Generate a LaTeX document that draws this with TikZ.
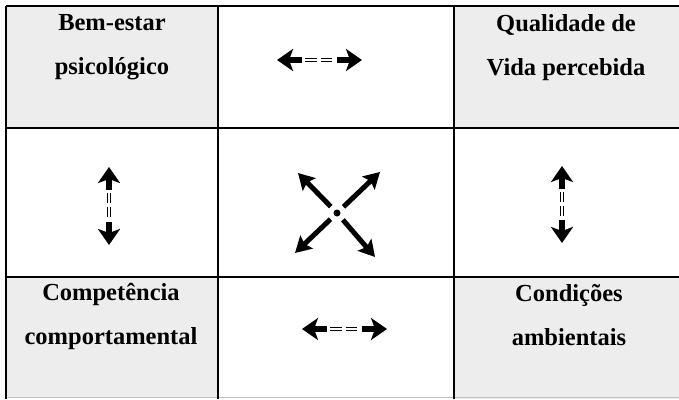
\documentclass[tikz,border=0pt]{standalone}
\usepackage{fontspec}
\setmainfont{Liberation Serif}
\usetikzlibrary{arrows.meta,calc}
\newcommand{\biarr}[4]{%
  \draw[headline] ($(#1)!#3!(#2)$) -- (#1);
  \draw[headline] ($(#2)!#3!(#1)$) -- (#2);
  \draw[dblline,#4] ($(#1)!#3+3pt!(#2)$) -- ($(#2)!#3+3pt!(#1)$);
}
\begin{document}
\begin{tikzpicture}[x=1pt,y=-1pt,
  gridline/.style={line width=1.3pt, black},
  cellfill/.style={fill=black!7},
  celltext/.style={font=\fontsize{24.5}{44}\selectfont\bfseries, align=center, anchor=base, inner sep=0pt},
  headline/.style={line width=6.5pt, -{Stealth[length=16pt,width=22pt,inset=4pt]}},
  dblline/.style={draw=black, line width=1pt, double=white, double distance=2.6pt},
  xline/.style={line width=5pt, -{Stealth[length=16pt,width=18pt,inset=3pt]}},
  ]
\useasboundingbox (0,0) rectangle (679,399);
% shaded corner cells
\fill[cellfill] (6,6) rectangle (218,128);
\fill[cellfill] (454,6) rectangle (679,128);
\fill[cellfill] (6,277) rectangle (218,397);
\fill[cellfill] (454,277) rectangle (679,399);
% grid
\draw[gridline] (6,6) -- (679,6);
\draw[gridline] (6,128) -- (679,128);
\draw[gridline] (6,277) -- (679,277);
\draw[black!25, line width=0.6pt] (6,397) -- (679,397);
\draw[gridline, line width=1.8pt] (6,6) -- (6,399);
\draw[gridline] (218,6) -- (218,399);
\draw[gridline] (454,6) -- (454,399);
% texts (base anchor = baseline of last line)
\node[celltext] (bem) at (112,74) {Bem-estar\\psicológico};
\node[celltext] (qual) at (566,75) {Qualidade de\\Vida percebida};
\node[celltext] (comp) at (111,344) {Competência\\comportamental};
\node[celltext] (cond) at (569,345) {Condições\\ambientais};
% arrow end points
\coordinate (tl) at (277,60);
\coordinate (tr) at (362,60);
\coordinate (bl) at (302,329);
\coordinate (br) at (387,329);
\coordinate (lt) at (109,167);
\coordinate (lb) at (109,245);
\coordinate (rt) at (562,166);
\coordinate (rb) at (562,243);
\coordinate (c) at (337,213);
\coordinate (ul) at (298,173);
\coordinate (ur) at (380,172);
\coordinate (ll) at (295,253);
\coordinate (lr) at (375,257);
% double-headed dashed arrows
\biarr{tl}{tr}{25pt}{dash pattern=on 11.5pt off 4pt}
\biarr{bl}{br}{25pt}{dash pattern=on 11.5pt off 4pt}
\biarr{lt}{lb}{23pt}{dash pattern=on 10pt off 4pt}
\biarr{rt}{rb}{23pt}{dash pattern=on 10pt off 4pt}
% central cross
\fill (c) circle (3.5pt);
\draw[xline] ($(c)!9pt!(ul)$) -- (ul);
\draw[xline] ($(c)!9pt!(ur)$) -- (ur);
\draw[xline] ($(c)!9pt!(ll)$) -- (ll);
\draw[xline] ($(c)!9pt!(lr)$) -- (lr);
\end{tikzpicture}
\end{document}
